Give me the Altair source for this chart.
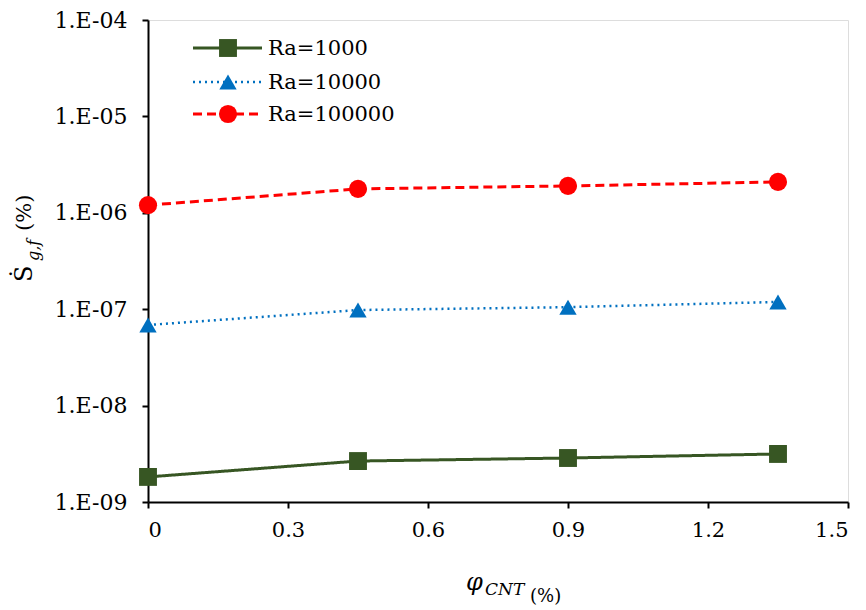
import altair as alt
import pandas as pd

phi = [0, 0.45, 0.9, 1.35]
series_names = ["Ra=1000", "Ra=10000", "Ra=100000"]
ra1000 = [1.82e-9, 2.66e-9, 2.86e-9, 3.15e-9]
ra10000 = [6.86e-8, 9.8e-8, 1.05e-7, 1.19e-7]
ra100000 = [1.2e-6, 1.77e-6, 1.9e-6, 2.09e-6]
x_ticks = [0, 0.3, 0.6, 0.9, 1.2, 1.5]
y_ticks = [1e-9, 1e-8, 1e-7, 1e-6, 1e-5, 1e-4]

FONT = "DejaVu Serif"
styles = [
    dict(color="#375623", dash=[1, 0], shape="square", width=3, size=320),
    dict(color="#0070C0", dash=[2, 4], shape="triangle-up", width=2.5, size=300),
    dict(color="#FF0000", dash=[9, 5], shape="circle", width=3, size=330),
]
values = [ra1000, ra10000, ra100000]

xscale = alt.Scale(domain=[0, 1.5], nice=False, zero=False)
yscale = alt.Scale(type="log", domain=[1e-9, 1e-4], nice=False)

xaxis = alt.Axis(values=x_ticks, title=None, grid=False,
                 labelExpr="datum.value == 0 ? '0' : format(datum.value, '.1f')",
                 labelFont=FONT, labelFontSize=21, labelColor="black",
                 labelPadding=11, tickSize=6, tickWidth=2, tickColor="black",
                 domainColor="black", domainWidth=2)
yaxis = alt.Axis(values=y_ticks, title=None, grid=False,
                 labelExpr="'1.E-' + (round(-log(datum.value)/LN10) < 10 ? '0' : '') + round(-log(datum.value)/LN10)",
                 labelFont=FONT, labelFontSize=22, labelColor="black",
                 labelPadding=15, tickSize=6, tickWidth=2, tickColor="black",
                 domainColor="black", domainWidth=2)

layers = []
legend_rows = [28, 62, 94]
for i, name in enumerate(series_names):
    st = styles[i]
    df = pd.DataFrame({"phi": phi, "S": values[i], "series": name})
    base = alt.Chart(df)
    line = base.mark_line(color=st["color"], strokeWidth=st["width"], strokeDash=st["dash"]).encode(
        x=alt.X("phi:Q", scale=xscale, axis=xaxis),
        y=alt.Y("S:Q", scale=yscale, axis=yaxis),
    )
    pts = base.mark_point(shape=st["shape"], size=st["size"], filled=True, color=st["color"], opacity=1).encode(
        x=alt.X("phi:Q", scale=xscale),
        y=alt.Y("S:Q", scale=yscale),
    )
    layers += [line, pts]
    ldf = pd.DataFrame({"label": [name]})
    lb = alt.Chart(ldf)
    ly = legend_rows[i]
    layers.append(lb.mark_rule(color=st["color"], strokeWidth=st["width"], strokeDash=st["dash"]).encode(
        x=alt.value(45), x2=alt.value(114), y=alt.value(ly)))
    layers.append(lb.mark_point(shape=st["shape"], size=st["size"], filled=True, color=st["color"], opacity=1).encode(
        x=alt.value(80), y=alt.value(ly)))
    layers.append(lb.mark_text(align="left", baseline="middle", font=FONT, fontSize=21, color="black").encode(
        x=alt.value(120), y=alt.value(ly + 1), text="label:N"))


def txt(s, x, y, size, style="normal", angle=0, align="left", baseline="alphabetic", font=FONT):
    return alt.Chart(pd.DataFrame({"t": [s]})).mark_text(
        text=s, align=align, baseline=baseline, font=font, fontSize=size,
        fontStyle=style, angle=angle, color="black").encode(x=alt.value(x), y=alt.value(y))


layers += [
    txt("Ṡ", -123, 262, 24, angle=270, baseline="middle"),
    txt("g,f", -114, 241, 16, style="italic", angle=270, baseline="middle"),
    txt("(%)", -123, 211, 21, angle=270, baseline="middle"),
    txt("φ", 318, 570, 24, style="italic"),
    txt("CNT", 337, 575, 17, style="italic"),
    txt("(%)", 382, 582, 18),
]

chart = alt.layer(*layers).properties(
    width=700, height=482,
    autosize=alt.AutoSizeParams(type="none"),
    padding={"left": 140, "top": 12, "right": 10, "bottom": 106},
).configure_view(stroke="black", strokeWidth=1.5).configure(background="white")

chart.save("out.html", embed_options={"renderer": "svg", "actions": False})
